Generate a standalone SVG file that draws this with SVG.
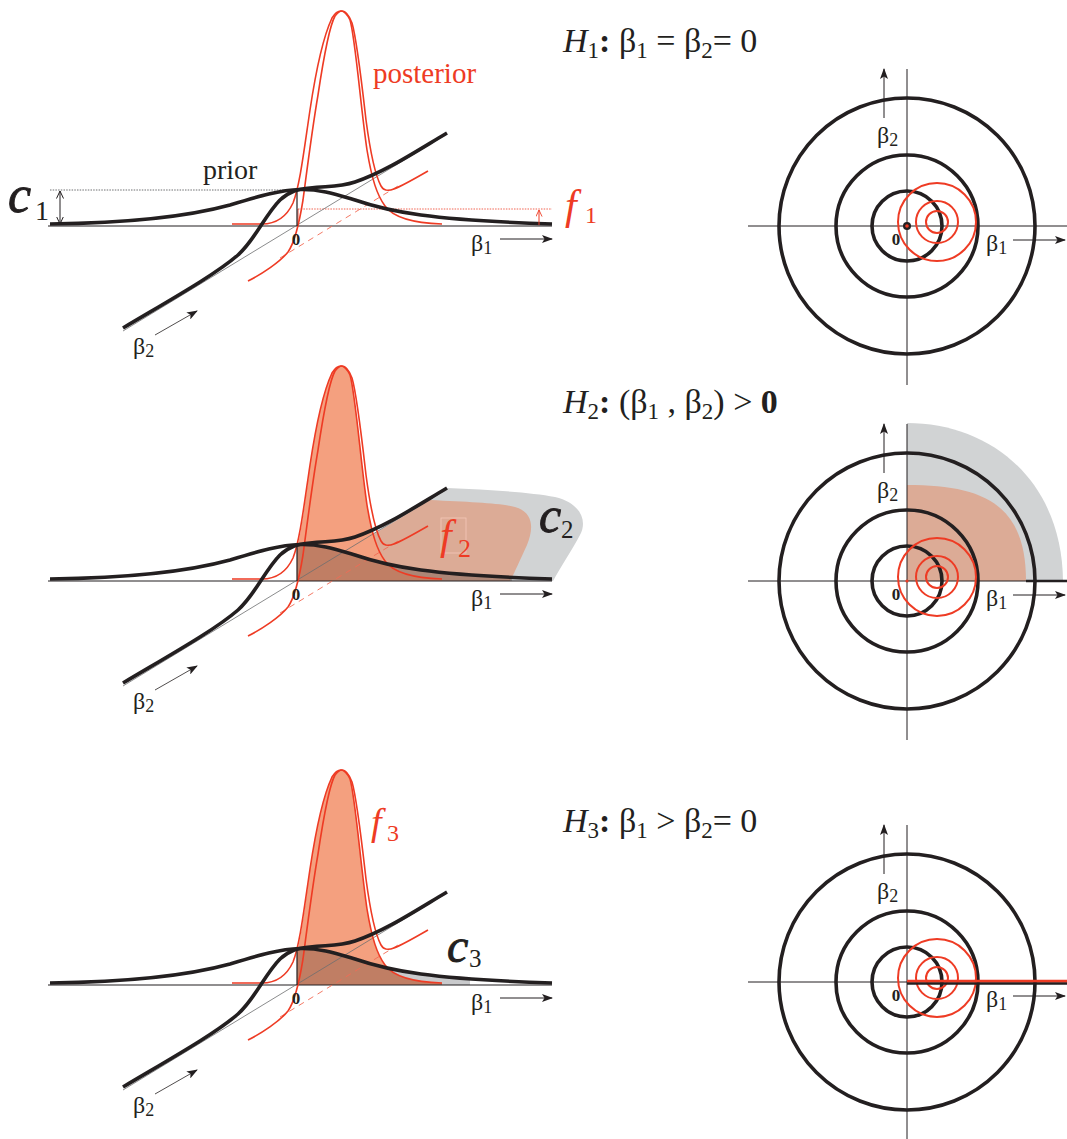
<svg xmlns="http://www.w3.org/2000/svg" xmlns:xlink="http://www.w3.org/1999/xlink" width="1067" height="1139" viewBox="0 0 1067 1139" font-family="'Liberation Serif', 'DejaVu Serif', serif">
<style>
text{font-family:'Liberation Serif','DejaVu Serif',serif;fill:#231f20}
.thick{fill:none;stroke:#231f20;stroke-width:3.6;stroke-linecap:butt}
.thin{fill:none;stroke:#231f20;stroke-width:1.2}
.hair{fill:none;stroke:#6d6e70;stroke-width:0.8}
.red{fill:none;stroke:#ee3b24;stroke-width:1.6}
.rdash{fill:none;stroke:#f26b55;stroke-width:0.9;stroke-dasharray:6 5}
.circ{fill:none;stroke:#231f20;stroke-width:3.6}
.rcirc{fill:none;stroke:#ee3b24;stroke-width:2}
.hdr{font-size:34px}
.sub{font-size:23px}
.lab{font-size:24px}
.lsub{font-size:18px}
.zero{font-size:17px;font-weight:bold;text-anchor:middle}
.rtext{fill:#ee3b24}
.post{fill:#f4a07f}
.under{fill:#000;fill-opacity:0.21}
.script{font-style:italic;stroke:#231f20;stroke-width:0.9}
</style>
<defs>
<marker id="ah" viewBox="0 0 11 8" refX="10" refY="4" markerWidth="11" markerHeight="8" markerUnits="userSpaceOnUse" orient="auto"><path d="M0,0 L11,4 L0,8 L2.5,4 z" fill="#231f20"/></marker>
<marker id="oh" viewBox="0 0 8 8" refX="7.5" refY="4" markerWidth="8" markerHeight="8" markerUnits="userSpaceOnUse" orient="auto-start-reverse"><path d="M0,0.5 L7.5,4 L0,7.5" fill="none" stroke="#231f20" stroke-width="1"/></marker>
<marker id="ohr" viewBox="0 0 8 8" refX="7.5" refY="4" markerWidth="7" markerHeight="7" markerUnits="userSpaceOnUse" orient="auto"><path d="M0,0.5 L7.5,4 L0,7.5" fill="none" stroke="#ee3b24" stroke-width="1"/></marker>
<path id="priorB1" d="M50,224 C130,223 190,216 230,205 C260,196 280,190 300,189.5 C320,189 335,194 355,200 C390,212 430,220 552,224"/>
<path id="priorB2" d="M123,328 C170,300 215,275 238,255 C255,240 265,215 280,200 C290,191 298,189 310,188 C330,186 340,187 355,182 C385,172 415,152 447,133"/>
<path id="postA" d="M232,224 L262,224 C276,224 286,218 293,203 C300,185 304,150 310,110 C316,70 324,35 332,18 C335,13 338,11 341,11 C344,11 347,14 350,20 C355,35 361,110 367,150 C372,180 377,195 385,206 C393,217 410,223 442,224"/>
<path id="postB" d="M248,281 C262,274 280,262 288,252 C295,242 299,225 303,200 C307,170 312,130 318,95 C324,55 330,25 335,16 C338,12 340,11 342,11 C346,11 349,15 352,23 C357,40 362,85 366,120 C370,150 375,175 381,186 C386,195 395,190 428,171"/>
<path id="postFill" d="M297,226 L297,194 C301,178 305,150 310,110 C316,70 324,35 332,18 C335,13 338,11 341,11 C344,11 347,14 350,20 C355,35 361,110 367,150 C372,180 377,195 385,206 C393,217 410,223 442,224 L442,226 Z"/>
<path id="underPrior" d="M297,226 L297,190 L300,189.5 C320,189 335,194 355,200 C390,212 430,220 552,224 L552,226 Z"/>
<clipPath id="clipLeft512"><rect x="290" y="0" width="222" height="300"/></clipPath>
<clipPath id="clipPost"><path d="M297,226 L297,194 C301,178 305,150 310,110 C316,70 324,35 332,18 C335,13 338,11 341,11 C344,11 347,14 350,20 C355,35 361,110 367,150 C372,180 377,195 385,206 C393,217 410,223 442,224 L442,226 Z"/></clipPath>
<clipPath id="clipC3"><rect x="290" y="0" width="180" height="300"/></clipPath>
<g id="leftBase">
  <line x1="48" y1="226" x2="552" y2="226" class="thin"/>
  <line x1="123" y1="331" x2="447" y2="134" class="hair"/>
  <path d="M280,258 L398,186" class="rdash"/>
  <use xlink:href="#postA" class="red"/>
  <use xlink:href="#postB" class="red"/>
  <use xlink:href="#priorB1" class="thick"/>
  <use xlink:href="#priorB2" class="thick"/>
  <line x1="297" y1="190" x2="297" y2="226" class="thin"/>
  <text x="296" y="245" class="zero">0</text>
  <text x="471" y="251" class="lab">β<tspan class="lsub" dy="3">1</tspan></text>
  <line x1="500" y1="239" x2="552" y2="239" stroke="#231f20" stroke-width="1" marker-end="url(#ah)"/>
  <text x="133" y="354" class="lab">β<tspan class="lsub" dy="3">2</tspan></text>
  <line x1="155" y1="335" x2="197" y2="311" stroke="#231f20" stroke-width="0.8" marker-end="url(#ah)"/>
</g>
<g id="circBase">
  <line x1="0" y1="-157" x2="0" y2="159" stroke="#231f20" stroke-width="1"/>
  <line x1="-159" y1="0" x2="160" y2="0" stroke="#231f20" stroke-width="1"/>
  <circle r="35" class="circ"/>
  <circle r="71" class="circ"/>
  <circle r="128" class="circ"/>
  <circle cx="30" cy="-4" r="39" class="rcirc"/>
  <circle cx="30" cy="-4" r="21" class="rcirc"/>
  <circle cx="30" cy="-4" r="11" class="rcirc"/>
  <line x1="-23" y1="-108" x2="-23" y2="-157" stroke="#231f20" stroke-width="1" marker-end="url(#ah)"/>
  <text x="-30" y="-83" class="lab">β<tspan class="lsub" dy="3">2</tspan></text>
  <line x1="106" y1="14" x2="158" y2="14" stroke="#231f20" stroke-width="1" marker-end="url(#ah)"/>
  <text x="79" y="25" class="lab">β<tspan class="lsub" dy="3">1</tspan></text>
  <text x="-11" y="19" class="zero">0</text>
</g>
</defs>

<g id="headers">
  <text class="hdr" x="563" y="52"><tspan font-style="italic">H</tspan><tspan class="sub" dy="6">1</tspan><tspan dy="-6" font-weight="bold">: </tspan>β<tspan class="sub" dy="6">1</tspan><tspan dy="-6"> = β</tspan><tspan class="sub" dy="6">2</tspan><tspan dy="-6">= 0</tspan></text>
  <text class="hdr" x="563" y="413"><tspan font-style="italic">H</tspan><tspan class="sub" dy="6">2</tspan><tspan dy="-6" font-weight="bold">: </tspan>(β<tspan class="sub" dy="6">1</tspan><tspan dy="-6"> , β</tspan><tspan class="sub" dy="6">2</tspan><tspan dy="-6">) &gt; </tspan><tspan font-weight="bold">0</tspan></text>
  <text class="hdr" x="563" y="832"><tspan font-style="italic">H</tspan><tspan class="sub" dy="6">3</tspan><tspan dy="-6" font-weight="bold">: </tspan>β<tspan class="sub" dy="6">1</tspan><tspan dy="-6"> &gt; β</tspan><tspan class="sub" dy="6">2</tspan><tspan dy="-6">= 0</tspan></text>
</g>

<g id="panel1-left">
  <line x1="50" y1="190" x2="297" y2="190" stroke="#6d6e70" stroke-width="1" stroke-dasharray="1.5 1.2"/>
  <line x1="298" y1="209" x2="552" y2="209" stroke="#ee3b24" stroke-width="0.8" stroke-dasharray="1.5 1.2"/>
  <line x1="298" y1="209" x2="298" y2="226" stroke="#ee3b24" stroke-width="0.9"/>
  <use xlink:href="#leftBase"/>
  <line x1="60" y1="191" x2="60" y2="224" stroke="#231f20" stroke-width="1" marker-start="url(#oh)" marker-end="url(#oh)"/>
  <line x1="539" y1="225" x2="539" y2="210" stroke="#ee3b24" stroke-width="1" marker-end="url(#ohr)"/>
  <text x="203" y="179" font-size="28">prior</text>
  <text x="373" y="83" font-size="29" class="rtext">posterior</text>
  <text x="8" y="212" font-size="52" class="script">c</text>
  <text x="35" y="220" font-size="28">1</text>
  <text x="565" y="219" font-size="42" font-style="italic" class="rtext">f</text>
  <text x="585" y="223" font-size="24" class="rtext">1</text>
</g>

<g id="panel2-left">
  <path d="M297,581 L447,488 C490,490 530,492 555,497 C580,503 588,520 580,535 C572,550 560,568 553,581 Z" fill="#d1d3d4"/>
  <path d="M297,581 L430,500 C470,502 500,503 515,507 C535,513 533,530 527,545 C520,560 515,572 510,581 Z" fill="#dcab96"/>
  <g transform="translate(0,355)">
    <use xlink:href="#postFill" class="post"/>
    <use xlink:href="#underPrior" class="under" clip-path="url(#clipLeft512)"/>
    <use xlink:href="#leftBase"/>
  </g>
  <rect x="441" y="518" width="25" height="35" fill="none" stroke="#f5c9b8" stroke-width="0.8"/>
  <text x="440" y="549" font-size="42" font-style="italic" class="rtext">f</text>
  <text x="458" y="557" font-size="26" class="rtext">2</text>
  <text x="539" y="532" font-size="50" class="script">c</text>
  <text x="561" y="538" font-size="25">2</text>
</g>

<g id="panel3-left">
  <g transform="translate(0,759)">
    <use xlink:href="#underPrior" fill="#c9cacc" clip-path="url(#clipC3)"/>
    <use xlink:href="#postFill" class="post"/>
    <use xlink:href="#underPrior" class="under" clip-path="url(#clipPost)"/>
    <use xlink:href="#leftBase"/>
  </g>
  <text x="371" y="835" font-size="38" font-style="italic" class="rtext">f</text>
  <text x="387" y="841" font-size="24" class="rtext">3</text>
  <text x="447" y="962" font-size="48" class="script">c</text>
  <text x="469" y="967" font-size="25">3</text>
</g>

<g id="panel1-circles">
  <use xlink:href="#circBase" transform="translate(907,226)"/>
  <circle cx="907" cy="226" r="4" fill="#231f20"/>
  <circle cx="907" cy="226" r="1.8" fill="#ee3b24"/>
</g>

<g id="panel2-circles">
  <path d="M907,581 L907,423 C990,423 1062,480 1063,581 Z" fill="#d1d3d4"/>
  <path d="M907,581 L907,485 C985,485 1026,505 1026,581 Z" fill="#dcab96"/>
  <use xlink:href="#circBase" transform="translate(907,581)"/>
  <line x1="1026" y1="581" x2="1067" y2="581" stroke="#231f20" stroke-width="2.5"/>
  <circle cx="907" cy="581" r="1.6" fill="#ee3b24"/>
</g>

<g id="panel3-circles">
  <use xlink:href="#circBase" transform="translate(907,982)"/>
  <line x1="907" y1="983.5" x2="1067" y2="983.5" stroke="#231f20" stroke-width="2.5"/>
  <line x1="907" y1="981" x2="1067" y2="981" stroke="#ee3b24" stroke-width="2.5"/>
</g>
</svg>
